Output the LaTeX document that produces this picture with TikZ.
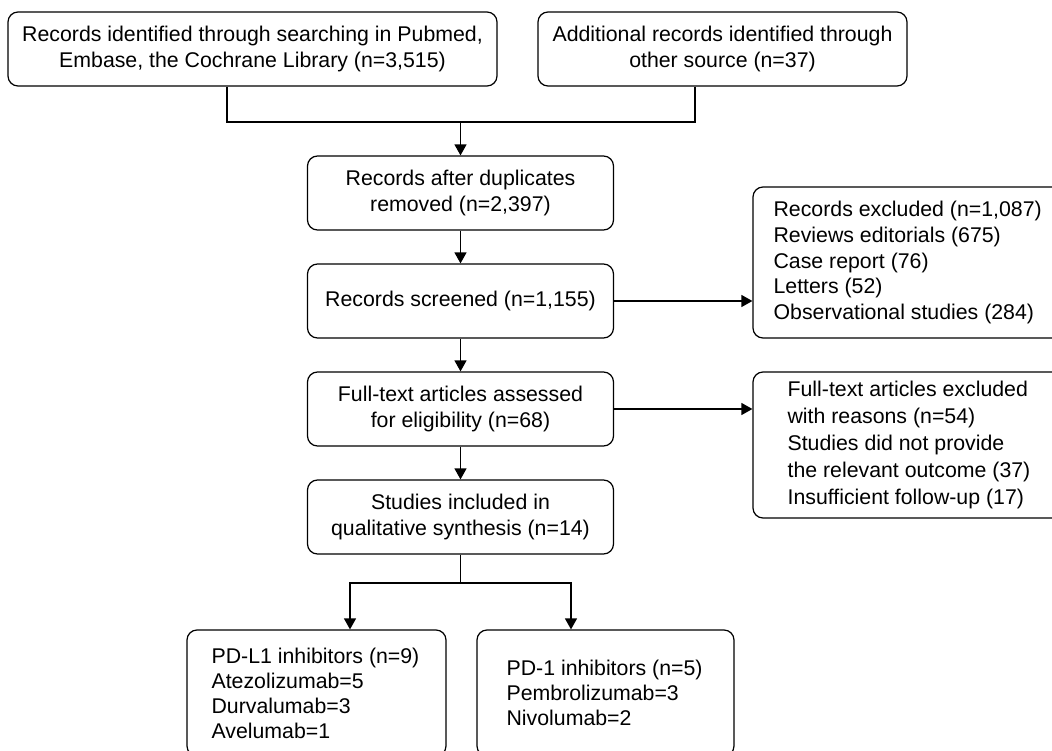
\documentclass[tikz,border=0pt]{standalone}
\usepackage{fontspec}
\setmainfont{Liberation Sans}
\usetikzlibrary{arrows.meta}
\begin{document}
\begin{tikzpicture}[x=1bp,y=-1bp,
  font=\fontsize{21.3bp}{25.5bp}\selectfont,
  box/.style={draw=black, line width=1.2bp, rounded corners=10bp, inner sep=0pt, align=center},
  lbl/.style={inner sep=0pt, align=left, anchor=west},
  conn/.style={line width=1.2bp, draw=black},
  arr/.style={conn, -{Triangle[length=11bp,width=12bp]}}]
\useasboundingbox (0,0) rectangle (1052,751);
\clip (0,0) rectangle (1052,751);
\fill[white] (0,0) rectangle (1052,751);

% top row
\node[box, minimum width=489bp, minimum height=74bp] (A) at (252.5,49)
  {Records identified through searching in Pubmed,\\Embase, the Cochrane Library (n=3,515)};
\node[box, minimum width=369bp, minimum height=74bp] (B) at (722.5,49)
  {Additional records identified through\\other source (n=37)};

% main column
\node[box, minimum width=306bp, minimum height=74bp] (C) at (460.5,193)
  {Records after duplicates\\removed (n=2,397)};
\node[box, minimum width=306bp, minimum height=74bp] (D) at (460.5,301)
  {Records screened (n=1,155)};
\node[box, minimum width=306bp, minimum height=74bp] (E) at (460.5,409)
  {Full-text articles assessed\\for eligibility (n=68)};
\node[box, minimum width=306bp, minimum height=74bp] (F) at (460.5,517)
  {Studies included in\\qualitative synthesis (n=14)};

% right column (cut by the page edge)
\node[box, minimum width=317bp, minimum height=151bp] (I) at (911.5,262.5) {};
\node[lbl, font=\fontsize{21.3bp}{25.7bp}\selectfont] (It) at ([xshift=21bp]I.west)
  {Records excluded (n=1,087)\\Reviews editorials (675)\\Case report (76)\\Letters (52)\\Observational studies (284)};
\node[box, minimum width=317bp, minimum height=146bp] (J) at (911.5,445) {};
\node[lbl, font=\fontsize{21.3bp}{27bp}\selectfont] (Jt) at ([xshift=35bp]J.west)
  {Full-text articles excluded\\with reasons (n=54)\\Studies did not provide\\the relevant outcome (37)\\Insufficient follow-up (17)};

% bottom row (cut by the page edge)
\node[box, minimum width=259bp, minimum height=126bp] (G) at (316.5,693) {};
\node[lbl, font=\fontsize{21.3bp}{25bp}\selectfont] (Gt) at ([xshift=25bp]G.west)
  {PD-L1 inhibitors (n=9)\\Atezolizumab=5\\Durvalumab=3\\Avelumab=1};
\node[box, minimum width=257bp, minimum height=126bp] (H) at (605.5,693) {};
\node[lbl, font=\fontsize{21.3bp}{25bp}\selectfont] (Ht) at ([xshift=30bp]H.west)
  {PD-1 inhibitors (n=5)\\Pembrolizumab=3\\Nivolumab=2};

% connectors
\coordinate (j1) at (460.5,122);
\coordinate (s1) at (460.5,583);
\draw[conn] ([xshift=-25.5bp]A.south) |- (j1);
\draw[conn] ([xshift=-27.5bp]B.south) |- (j1);
\draw[arr] (j1) -- (C.north);
\draw[arr] (C) -- (D);
\draw[arr] (D) -- (E);
\draw[arr] (E) -- (F);
\draw[arr] (D.east) -- (D.east -| I.west);
\draw[arr] (E.east) -- (E.east -| J.west);
\draw[conn] (F.south) -- (s1);
\draw[arr] (s1) -| ([xshift=33.5bp]G.north);
\draw[arr] (s1) -| ([xshift=-34.5bp]H.north);
\end{tikzpicture}
\end{document}
